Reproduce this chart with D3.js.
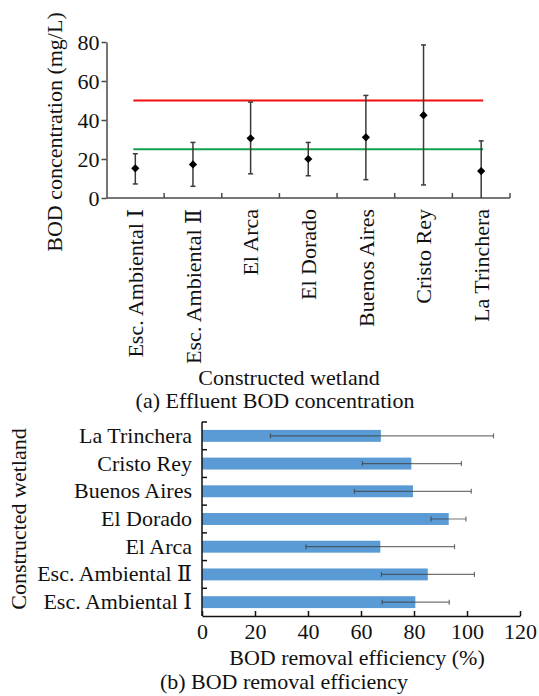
<!DOCTYPE html>
<html>
<head>
<meta charset="utf-8">
<script src="https://cdn.jsdelivr.net/npm/d3@7"></script>
<style>
  body { margin: 0; background: #fff; }
  svg text { font-family: 'Liberation Serif', 'DejaVu Serif', 'Noto Sans CJK SC', serif; fill: #111; }
</style>
</head>
<body>
<svg width="539" height="696"></svg>
<script>
// Wetland names (bottom to top in panel b)
const wetlands = ['Esc. Ambiental \u2160', 'Esc. Ambiental \u2161', 'El Arca', 'El Dorado', 'Buenos Aires', 'Cristo Rey', 'La Trinchera'];

// (a) effluent BOD concentration, mg/L
const bodMean = [15.2, 17.2, 30.6, 20.0, 31.1, 42.5, 13.8];
const bodLow = [7.2, 6.0, 12.4, 11.4, 9.4, 6.7, 0];
const bodHigh = [22.7, 28.5, 49.2, 28.5, 52.6, 78.5, 29.3];
const bodTicks = [0, 20, 40, 60, 80];
// discharge limits drawn as horizontal lines
const limits = [{ value: 50, color: '#f20d0d' }, { value: 25, color: '#12a24b' }];

// (b) BOD removal efficiency, %
const removal = [80.5, 85.2, 67.3, 93.1, 79.6, 79.0, 67.5];
const removalLow = [68.0, 67.7, 39.2, 86.4, 57.5, 60.5, 25.8];
const removalHigh = [93.3, 102.8, 95.3, 99.6, 101.6, 97.9, 110.0];
const removalTicks = [0, 20, 40, 60, 80, 100, 120];

const svg = d3.select('svg');
const fs = 22;

// ---------- panel (a) ----------
const x = d3.scaleBand().domain(wetlands).range([106.5, 510]).padding(0);
const y = d3.scaleLinear().domain([0, 80]).range([198, 42]);
const ga = svg.append('g');

// y axis
const yAxis = d3.axisLeft(y).tickValues(bodTicks).tickSize(5).tickPadding(2).tickSizeOuter(0);
const yg = ga.append('g').attr('transform', 'translate(106.5,0)').call(yAxis).attr('font-family', null);
yg.selectAll('path, line').attr('stroke', '#4a4a4a').attr('stroke-width', 1.5);
yg.selectAll('text').attr('font-size', fs);

// x axis line with inward ticks at band edges
ga.append('line').attr('x1', x.range()[0]).attr('x2', x.range()[1]).attr('y1', y(0)).attr('y2', y(0))
  .attr('stroke', '#4a4a4a').attr('stroke-width', 1.5);
ga.selectAll('.xtick').data(wetlands).join('line')
  .attr('x1', d => x(d) + x.bandwidth()).attr('x2', d => x(d) + x.bandwidth())
  .attr('y1', y(0)).attr('y2', y(0) - 5)
  .attr('stroke', '#4a4a4a').attr('stroke-width', 1.5);

// rotated category labels
ga.selectAll('.xlab').data(wetlands).join('text')
  .attr('transform', d => `translate(${x(d) + x.bandwidth() / 2},${y(0) + 11}) rotate(-90)`)
  .attr('text-anchor', 'end').attr('dy', '0.35em').attr('font-size', fs)
  .text(d => d);

// limit lines
const xFirst = x(wetlands[0]) + x.bandwidth() / 2 - 2;
const xLast = x(wetlands[wetlands.length - 1]) + x.bandwidth() / 2 + 2;
ga.selectAll('.limit').data(limits).join('line')
  .attr('x1', xFirst).attr('x2', xLast)
  .attr('y1', d => y(d.value)).attr('y2', d => y(d.value))
  .attr('stroke', d => d.color).attr('stroke-width', 2.2);

// error bars
const eb = ga.append('g').attr('stroke', '#3a3a3a').attr('stroke-width', 1.5);
wetlands.forEach((d, i) => {
  const cx = x(d) + x.bandwidth() / 2;
  eb.append('line').attr('x1', cx).attr('x2', cx).attr('y1', y(bodLow[i])).attr('y2', y(bodHigh[i]));
  eb.append('line').attr('x1', cx - 2.5).attr('x2', cx + 2.5).attr('y1', y(bodHigh[i])).attr('y2', y(bodHigh[i]));
  if (bodLow[i] > 0) eb.append('line').attr('x1', cx - 2.5).attr('x2', cx + 2.5).attr('y1', y(bodLow[i])).attr('y2', y(bodLow[i]));
});

// diamond markers
ga.selectAll('.pt').data(wetlands).join('path')
  .attr('d', d3.symbol(d3.symbolSquare, 34))
  .attr('transform', (d, i) => `translate(${x(d) + x.bandwidth() / 2},${y(bodMean[i])}) rotate(45)`)
  .attr('fill', '#000');

// titles
ga.append('text').attr('transform', 'translate(61.5,132) rotate(-90)').attr('text-anchor', 'middle')
  .attr('font-size', fs).text('BOD concentration (mg/L)');
ga.append('text').attr('x', 289).attr('y', 385).attr('text-anchor', 'middle')
  .attr('font-size', fs).text('Constructed wetland');
ga.append('text').attr('x', 275).attr('y', 408).attr('text-anchor', 'middle')
  .attr('font-size', fs).text('(a) Effluent BOD concentration');

// ---------- panel (b) ----------
const xb = d3.scaleLinear().domain([0, 120]).range([202, 520]);
const yb = d3.scaleBand().domain(wetlands.slice().reverse()).range([422, 616]).paddingInner(0.57).paddingOuter(0.285);
const gb = svg.append('g');

// bars
gb.selectAll('.bar').data(wetlands).join('rect')
  .attr('x', xb(0)).attr('y', d => yb(d))
  .attr('width', (d, i) => xb(removal[i]) - xb(0)).attr('height', yb.bandwidth())
  .attr('fill', '#5b9bd5');

// error bars
const ebb = gb.append('g').attr('stroke', '#3d3d3d').attr('stroke-opacity', 0.72).attr('stroke-width', 1.2);
wetlands.forEach((d, i) => {
  const cy = yb(d) + yb.bandwidth() / 2;
  ebb.append('line').attr('x1', xb(removalLow[i])).attr('x2', xb(removalHigh[i])).attr('y1', cy).attr('y2', cy);
  [removalLow[i], removalHigh[i]].forEach(v => {
    ebb.append('line').attr('x1', xb(v)).attr('x2', xb(v)).attr('y1', cy - 2.5).attr('y2', cy + 2.5);
  });
});

// x axis with inward ticks
const xbAxis = d3.axisBottom(xb).tickValues(removalTicks).tickSize(-5).tickPadding(7).tickSizeOuter(0);
const xg = gb.append('g').attr('transform', 'translate(0,616)').call(xbAxis).attr('font-family', null);
xg.selectAll('path, line').attr('stroke', '#111').attr('stroke-width', 1.5);
xg.selectAll('text').attr('font-size', fs);

// y axis line with inward ticks at band edges
const step = yb.step();
gb.append('line').attr('x1', xb(0)).attr('x2', xb(0)).attr('y1', 422).attr('y2', 616)
  .attr('stroke', '#111').attr('stroke-width', 1.5);
gb.selectAll('.ytick').data(wetlands).join('line')
  .attr('x1', xb(0)).attr('x2', xb(0) + 5)
  .attr('y1', d => yb(d) + yb.bandwidth() / 2 - step / 2)
  .attr('y2', d => yb(d) + yb.bandwidth() / 2 - step / 2)
  .attr('stroke', '#111').attr('stroke-width', 1.5);
gb.selectAll('.ylab').data(wetlands).join('text')
  .attr('x', xb(0) - 10).attr('y', d => yb(d) + yb.bandwidth() / 2)
  .attr('dy', '0.32em').attr('text-anchor', 'end').attr('font-size', fs)
  .text(d => d);

// titles
gb.append('text').attr('transform', 'translate(26,519) rotate(-90)').attr('text-anchor', 'middle')
  .attr('font-size', fs).text('Constructed wetland');
gb.append('text').attr('x', 357).attr('y', 665).attr('text-anchor', 'middle')
  .attr('font-size', fs).text('BOD removal efficiency (%)');
gb.append('text').attr('x', 284).attr('y', 689).attr('text-anchor', 'middle')
  .attr('font-size', fs).text('(b) BOD removal efficiency');
</script>
</body>
</html>
